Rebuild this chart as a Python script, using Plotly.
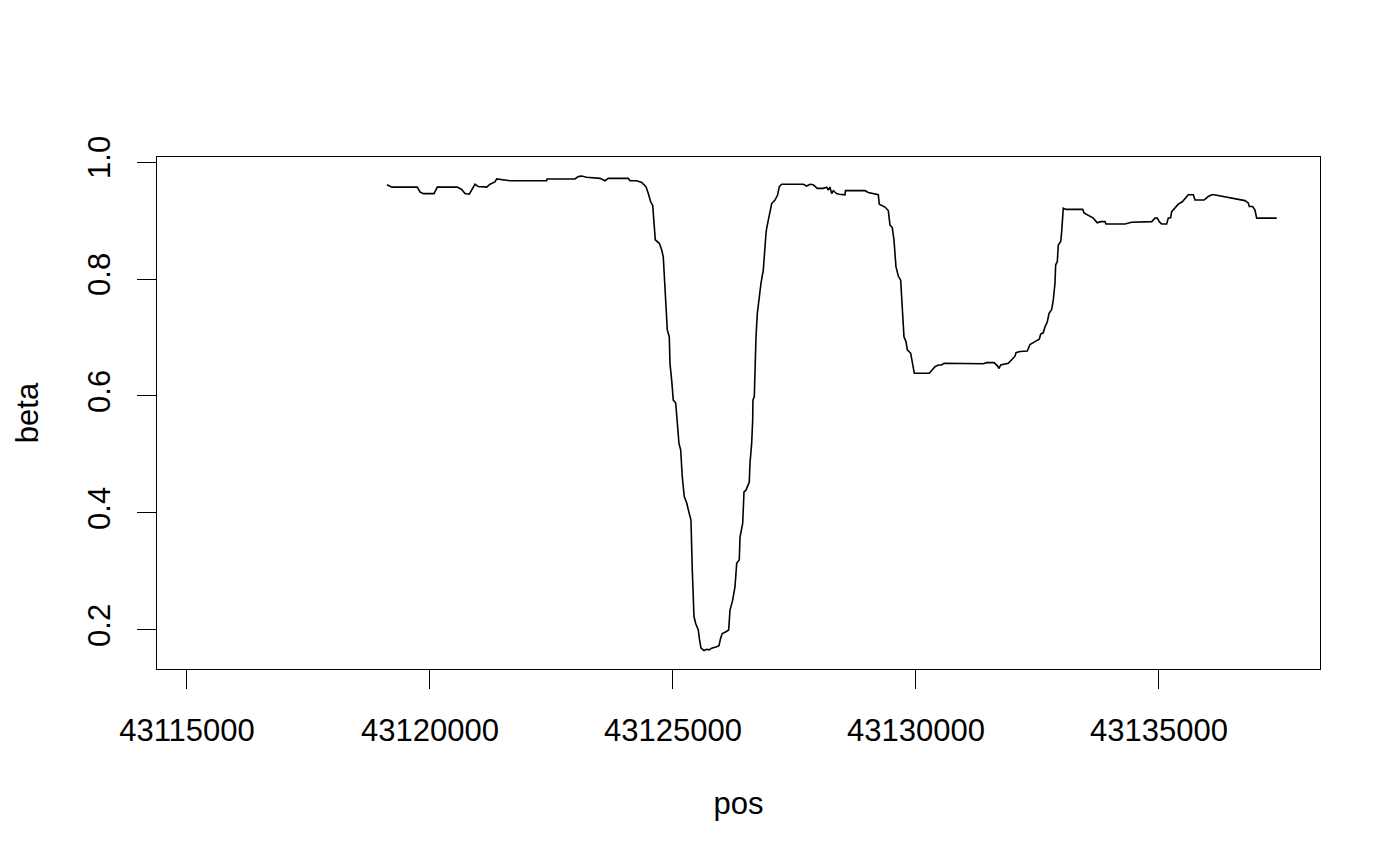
import plotly.graph_objects as go

pos = [43119115, 43119218, 43119739, 43119794, 43119862, 43120082, 43120150, 43120562, 43120652, 43120720,
       43120809, 43120858, 43120926, 43120994, 43121167, 43121235, 43121337, 43121372, 43121646, 43122401,
       43122407, 43122983, 43123051, 43123121, 43123224, 43123498, 43123601, 43123669, 43124080, 43124115,
       43124253, 43124356, 43124444, 43124492, 43124541, 43124582, 43124609, 43124636, 43124718, 43124767,
       43124800, 43124821, 43124856, 43124883, 43124924, 43124938, 43124973, 43125006, 43125056, 43125088,
       43125123, 43125158, 43125191, 43125232, 43125282, 43125335, 43125370, 43125397, 43125418, 43125432,
       43125467, 43125521, 43125541, 43125576, 43125638, 43125693, 43125747, 43125796, 43125885, 43125946,
       43125981, 43126014, 43126090, 43126146, 43126173, 43126228, 43126276, 43126311, 43126364, 43126379,
       43126434, 43126461, 43126502, 43126570, 43126584, 43126619, 43126640, 43126645, 43126673, 43126687,
       43126708, 43126735, 43126776, 43126811, 43126858, 43126879, 43126914, 43126928, 43126961, 43126996,
       43127031, 43127099, 43127154, 43127187, 43127237, 43127681, 43127751, 43127819, 43127887, 43127969,
       43128093, 43128162, 43128196, 43128230, 43128265, 43128298, 43128368, 43128422, 43128539, 43128549,
       43128951, 43129019, 43129156, 43129224, 43129245, 43129362, 43129430, 43129465, 43129512, 43129547,
       43129588, 43129636, 43129685, 43129718, 43129753, 43129794, 43129821, 43129891, 43129932, 43129965,
       43130274, 43130323, 43130391, 43130459, 43130529, 43130576, 43130699, 43130734, 43131385, 43131455,
       43131605, 43131673, 43131708, 43131743, 43131831, 43131899, 43131969, 43132037, 43132058, 43132140,
       43132290, 43132346, 43132448, 43132537, 43132566, 43132619, 43132654, 43132702, 43132737, 43132792,
       43132825, 43132860, 43132874, 43132908, 43132928, 43132978, 43132998, 43133031, 43133086, 43133430,
       43133457, 43133545, 43133648, 43133730, 43133800, 43133889, 43133909, 43134300, 43134438, 43134850,
       43134918, 43134965, 43135006, 43135055, 43135158, 43135191, 43135241, 43135261, 43135329, 43135397,
       43135479, 43135535, 43135603, 43135706, 43135741, 43135926, 43136014, 43136084, 43136132, 43136769,
       43136837, 43136858, 43136928, 43136975, 43137010, 43137422]

beta = [0.961, 0.957, 0.957, 0.949, 0.946, 0.946, 0.957, 0.957, 0.953, 0.946,
        0.945, 0.952, 0.962, 0.958, 0.957, 0.962, 0.966, 0.971, 0.968, 0.968,
        0.971, 0.971, 0.975, 0.976, 0.974, 0.972, 0.968, 0.972, 0.972, 0.968,
        0.968, 0.965, 0.958, 0.946, 0.932, 0.926, 0.901, 0.867, 0.861, 0.850,
        0.838, 0.810, 0.758, 0.713, 0.701, 0.656, 0.627, 0.593, 0.588, 0.559,
        0.519, 0.508, 0.462, 0.428, 0.417, 0.399, 0.388, 0.303, 0.251, 0.223,
        0.211, 0.200, 0.186, 0.169, 0.165, 0.167, 0.166, 0.169, 0.171, 0.173,
        0.186, 0.194, 0.197, 0.200, 0.234, 0.251, 0.274, 0.314, 0.320, 0.359,
        0.382, 0.436, 0.439, 0.453, 0.485, 0.519, 0.559, 0.593, 0.599, 0.644,
        0.701, 0.741, 0.770, 0.793, 0.815, 0.844, 0.878, 0.887, 0.901, 0.918,
        0.929, 0.935, 0.944, 0.958, 0.962, 0.962, 0.959, 0.962, 0.961, 0.955,
        0.955, 0.957, 0.952, 0.957, 0.946, 0.951, 0.946, 0.945, 0.944, 0.951,
        0.951, 0.948, 0.945, 0.944, 0.928, 0.923, 0.917, 0.892, 0.888, 0.867,
        0.821, 0.805, 0.798, 0.741, 0.701, 0.693, 0.679, 0.673, 0.656, 0.639,
        0.639, 0.643, 0.650, 0.653, 0.653, 0.656, 0.656, 0.655, 0.655, 0.657,
        0.657, 0.652, 0.647, 0.653, 0.655, 0.656, 0.662, 0.668, 0.674, 0.676,
        0.677, 0.688, 0.693, 0.697, 0.706, 0.708, 0.718, 0.727, 0.741, 0.748,
        0.764, 0.793, 0.824, 0.830, 0.858, 0.864, 0.881, 0.921, 0.919, 0.919,
        0.913, 0.909, 0.904, 0.896, 0.898, 0.898, 0.894, 0.894, 0.897, 0.898,
        0.904, 0.904, 0.898, 0.894, 0.894, 0.904, 0.905, 0.915, 0.922, 0.928,
        0.932, 0.938, 0.944, 0.944, 0.935, 0.935, 0.941, 0.944, 0.944, 0.934,
        0.930, 0.924, 0.924, 0.918, 0.904, 0.904]

x_ticks = [43115000, 43120000, 43125000, 43130000, 43135000]
x_tick_text = ["43115000", "43120000", "43125000", "43130000", "43135000"]
y_ticks = [0.2, 0.4, 0.6, 0.8, 1.0]
y_tick_text = ["0.2", "0.4", "0.6", "0.8", "1.0"]

FONT = "Liberation Sans, Arial, Helvetica, sans-serif"

fig = go.Figure()
fig.add_trace(go.Scatter(x=pos, y=beta, mode="lines",
                         line=dict(color="black", width=1.6), showlegend=False,
                         hoverinfo="x+y"))

fig.update_layout(
    width=1400, height=866,
    margin=dict(l=149, r=88, t=149, b=205),
    paper_bgcolor="white", plot_bgcolor="white",
    font=dict(family=FONT, size=31, color="black"),
    xaxis=dict(
        range=[43114383, 43138313],
        tickmode="array", tickvals=x_ticks, ticktext=x_tick_text,
        ticks="outside", ticklen=19, tickwidth=1, tickcolor="black",
        showline=True, linecolor="black", linewidth=1.3, mirror=True,
        showgrid=False, zeroline=False,
        ticklabelstandoff=15,
        title=dict(text="pos", standoff=44, font=dict(size=31)),
    ),
    yaxis=dict(
        range=[0.1333, 1.00855],
        tickmode="array", tickvals=y_ticks, ticktext=y_tick_text,
        ticks="outside", ticklen=19, tickwidth=1, tickcolor="black",
        tickangle=-90,
        showline=True, linecolor="black", linewidth=1.3, mirror=True,
        showgrid=False, zeroline=False,
        ticklabelstandoff=14,
        title=dict(text="beta", standoff=34, font=dict(size=31)),
    ),
)

fig.write_html("out.html")
